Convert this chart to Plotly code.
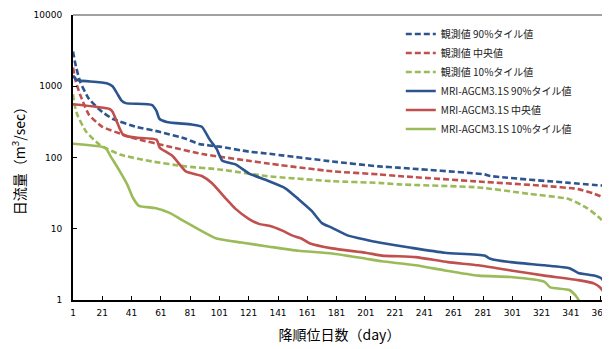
import plotly.graph_objects as go

# ---- data ----
obs90_days = [1, 3, 6, 12, 21, 28, 44, 60, 78, 87, 101, 121, 133, 178, 210, 223, 282, 286, 340, 365]
obs90_vals = [3080, 1900, 1140, 660, 435, 350, 270, 230, 183, 155, 142, 121, 114, 88, 75, 72, 58, 55, 44, 40]

obs50_days = [1, 3, 6, 12, 21, 35, 44, 67, 89, 121, 133, 178, 210, 223, 278, 323, 346, 357, 362, 365]
obs50_vals = [1830, 1150, 750, 395, 270, 210, 183, 142, 112, 90, 83, 64, 58, 55, 46, 40, 36, 31, 28, 24]

obs10_days = [1, 2, 4, 10, 19, 33, 55, 78, 101, 133, 178, 210, 223, 278, 312, 340, 352, 361, 365]
obs10_vals = [775, 560, 395, 230, 152, 110, 88, 75, 68, 55, 46.5, 44, 42, 38, 31, 26, 19.5, 14, 11]

mri90_days = [1, 3, 6, 24, 28, 31, 34, 37, 55, 58, 60, 65, 82, 89, 94, 99, 103, 112, 121, 132, 146, 155,
              164, 171, 178, 189, 201, 210, 232, 255, 282, 286, 300, 323, 340, 346, 357, 362, 365]
mri90_vals = [1420, 1250, 1200, 1100, 1000, 800, 635, 580, 545, 450, 350, 316, 290, 270, 183, 133, 90, 80, 60, 49, 37, 26,
              17.8, 12, 10.3, 8, 7, 6.4, 5.4, 4.6, 4.2, 3.8, 3.4, 3.07, 2.8, 2.4, 2.2, 2.0, 1.6]

mri50_days = [1, 26, 28, 33, 35, 37, 44, 58, 60, 61, 69, 78, 89, 96, 105, 112, 121, 128, 135, 144, 151, 157,
              163, 178, 201, 212, 235, 257, 278, 300, 323, 346, 357, 361, 365]
mri50_vals = [560, 480, 440, 252, 210, 200, 190, 178, 140, 133, 105, 64, 55, 43.5, 27, 19, 13.8, 11.7, 11, 9.4, 8, 7.3,
              6.2, 5.3, 4.6, 4.2, 4.0, 3.4, 3.07, 2.6, 2.2, 1.9, 1.7, 1.5, 1.17]

mri10_days = [1, 21, 24, 26, 33, 38, 42, 46, 57, 67, 74, 85, 99, 116, 135, 155, 178, 201, 212, 235, 255, 278,
              300, 323, 327, 340, 344, 347]
mri10_vals = [156, 141, 130, 110, 64, 42, 27, 21, 19.5, 16.7, 13.8, 10.3, 7.3, 6.4, 5.6, 4.9, 4.5, 3.8, 3.5, 3.07, 2.6, 2.2,
              2.1, 1.8, 1.5, 1.38, 1.17, 0.95]

names = ["観測値 90%タイル値", "観測値 中央値", "観測値 10%タイル値",
         "MRI-AGCM3.1S 90%タイル値", "MRI-AGCM3.1S 中央値", "MRI-AGCM3.1S 10%タイル値"]

x_ticks = list(range(1, 362, 20))
y_ticks = [1, 10, 100, 1000, 10000]

BLUE = "#2C5590"
RED = "#C0504D"
GREEN = "#9BBB59"

FONT = "DejaVu Sans, Verdana, Noto Sans CJK JP"

series = [
    (obs90_days, obs90_vals, names[0], BLUE, "6px,3px"),
    (obs50_days, obs50_vals, names[1], RED, "6px,3px"),
    (obs10_days, obs10_vals, names[2], GREEN, "6px,3px"),
    (mri90_days, mri90_vals, names[3], BLUE, "solid"),
    (mri50_days, mri50_vals, names[4], RED, "solid"),
    (mri10_days, mri10_vals, names[5], GREEN, "solid"),
]

fig = go.Figure()
for d, v, n, c, dash in series:
    fig.add_trace(go.Scatter(x=d, y=v, name=n, mode="lines", cliponaxis=True,
                             line=dict(color=c, width=2.6, dash=dash, shape="spline", smoothing=0.5)))

# page has an 8px body margin, so the figure is 8px smaller than the window
fig.update_layout(
    width=602, height=341,
    margin=dict(l=65, r=2, t=5, b=49),
    paper_bgcolor="white", plot_bgcolor="white",
    font=dict(family=FONT, size=9, color="black"),
    showlegend=True,
    legend=dict(x=0.615, y=0.984, xanchor="left", yanchor="top",
                bgcolor="rgba(0,0,0,0)", font=dict(family="Noto Sans CJK JP, DejaVu Sans", size=10, color="#222"),
                itemwidth=30),
    shapes=[dict(type="line", xref="paper", yref="paper", x0=0, x1=1, y0=1, y1=1,
                 line=dict(color="#444", width=1))],
)
fig.update_xaxes(range=[1, 365], tickvals=x_ticks, ticktext=[str(t) for t in x_ticks],
                 showgrid=False, zeroline=False, showline=True, linecolor="black", linewidth=2,
                 mirror=False, ticks="inside", ticklen=4, tickcolor="black", ticklabelstandoff=3,
                 tickfont=dict(family=FONT, size=9),
                 title=dict(text="降順位日数（day）", font=dict(family="Noto Sans CJK JP", size=14), standoff=13))
fig.update_yaxes(type="log", range=[0, 4], tickvals=y_ticks, ticktext=[str(t) for t in y_ticks],
                 showgrid=False, zeroline=False, showline=True, linecolor="black", linewidth=2,
                 mirror=True, ticks="inside", ticklen=4, tickcolor="black", ticklabelstandoff=7,
                 tickfont=dict(family=FONT, size=9),
                 title=dict(text="日流量（m<sup>3</sup>/sec）", font=dict(family="Noto Sans CJK JP", size=14), standoff=8))

fig.write_html("out.html")
